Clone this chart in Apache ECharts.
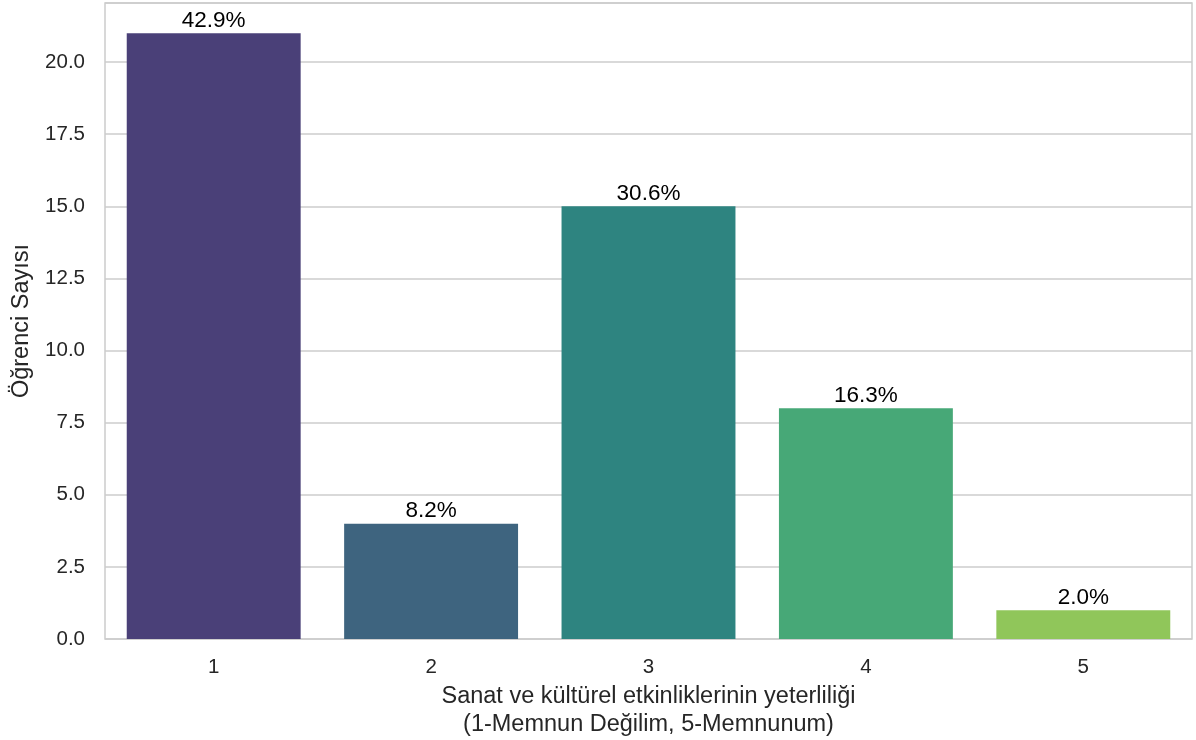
<!DOCTYPE html>
<html>
<head>
<meta charset="utf-8">
<script src="https://cdn.jsdelivr.net/npm/echarts@6/dist/echarts.min.js"></script>
<style>
html,body{margin:0;padding:0;background:#fff;}
#chart{width:1196px;height:740px;}
</style>
</head>
<body>
<div id="chart"></div>
<script>
const categories = ['1', '2', '3', '4', '5'];
const counts = [21, 4, 15, 8, 1];
const percentLabels = ['42.9%', '8.2%', '30.6%', '16.3%', '2.0%'];
const barColors = ['#4a4078', '#3e647f', '#2e8480', '#47a877', '#90c65a'];
const yTicks = { min: 0, max: 22.05, interval: 2.5 };

const FONT = '"Liberation Sans", Arial, sans-serif';
const chart = echarts.init(document.getElementById('chart'), null, { renderer: 'canvas' });
chart.setOption({
  animation: false,
  backgroundColor: '#ffffff',
  grid: {
    left: 105, right: 4, top: 3, bottom: 101,
    show: true, borderColor: '#cccccc', borderWidth: 1.5,
    containLabel: false, outerBoundsMode: 'none'
  },
  xAxis: {
    type: 'category',
    data: categories,
    axisLine: { show: false },
    axisTick: { show: false },
    axisLabel: { color: '#262626', fontSize: 20.5, fontFamily: FONT, margin: 18 },
    name: 'Sanat ve kültürel etkinliklerinin yeterliliği\n(1-Memnun Değilim, 5-Memnunum)',
    nameLocation: 'middle',
    nameGap: 35,
    nameTextStyle: { color: '#262626', fontSize: 23.5, fontFamily: FONT, lineHeight: 28 }
  },
  yAxis: {
    type: 'value',
    min: yTicks.min,
    max: yTicks.max,
    interval: yTicks.interval,
    axisLine: { show: false },
    axisTick: { show: false },
    splitLine: { show: true, lineStyle: { color: '#cccccc', width: 1.5 } },
    axisLabel: {
      color: '#262626', fontSize: 20.5, fontFamily: FONT, margin: 20,
      showMaxLabel: false,
      formatter: v => v.toFixed(1)
    },
    name: 'Öğrenci Sayısı',
    nameLocation: 'middle',
    nameGap: 71,
    nameRotate: 90,
    nameTextStyle: { color: '#262626', fontSize: 23.5, fontFamily: FONT }
  },
  series: [{
    type: 'bar',
    barWidth: '80%',
    data: counts.map((v, i) => ({ value: v, itemStyle: { color: barColors[i] } })),
    label: {
      show: true,
      position: 'top',
      distance: 1,
      color: '#000000',
      fontSize: 22.5,
      fontFamily: FONT,
      formatter: p => percentLabels[p.dataIndex]
    }
  }]
});
</script>
</body>
</html>
